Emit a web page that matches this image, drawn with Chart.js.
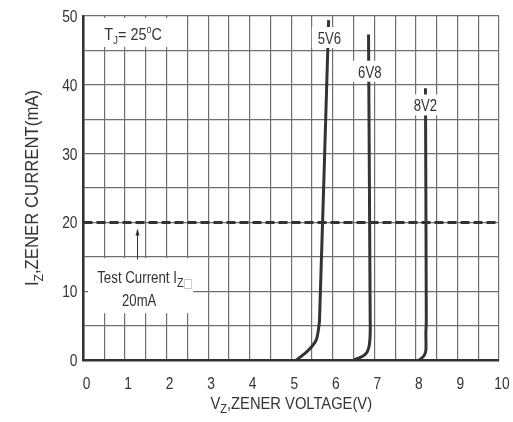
<!DOCTYPE html>
<html>
<head>
<meta charset="utf-8">
<script src="https://cdn.jsdelivr.net/npm/chart.js@4"></script>
<style>
  html, body { margin: 0; padding: 0; background: #fff; }
  #wrap { width: 513px; height: 422px; position: relative; }
</style>
</head>
<body>
<div id="wrap"><canvas id="zenerChart"></canvas></div>
<script>
// ---- data ----
const voltTicks = [0, 1, 2, 3, 4, 5, 6, 7, 8, 9, 10];
const currentTicks = [0, 10, 20, 30, 40, 50];

const v5V6 = [5.12, 5.33, 5.49, 5.60, 5.64, 5.68, 5.90];
const i5V6 = [0, 0.97, 1.93, 2.9, 3.87, 5.8, 49.4];
const v6V8 = [6.50, 6.73, 6.83, 6.88, 6.90, 6.90, 6.86];
const i6V8 = [0, 0.58, 1.2, 2.2, 3.9, 5.8, 47.3];
const v8V2 = [8.08, 8.19, 8.24, 8.24, 8.25, 8.23];
const i8V2 = [0, 0.58, 1.45, 3.9, 5.8, 39.5];

const testCurrent = 20;
const curveNames = ['5V6', '6V8', '8V2'];
const nameVolt = [5.92, 6.89, 8.23];
const nameCurrent = [46.8, 41.9, 37.0];

// no condensed face installed, so text is squeezed horizontally by hand
const FONT = "'Liberation Sans', Arial, sans-serif";
const INK = '#333';

function toPoints(vs, is) {
    return vs.map((v, k) => ({ x: v, y: is[k] }));
}

function richWidth(ctx, parts) {
    let w = 0;
    parts.forEach(p => {
        ctx.font = p.size + 'px ' + (p.family || FONT);
        w += ctx.measureText(p.text).width;
    });
    return w;
}

// draws text pieces (with sub/superscripts) squeezed by sx; align: 0 left, 0.5 centre, 1 right
function drawRich(ctx, parts, x, y, align, sx) {
    const w = richWidth(ctx, parts);
    ctx.save();
    ctx.translate(x, y);
    ctx.scale(sx, 1);
    let cx = -w * align;
    parts.forEach(p => {
        ctx.font = p.size + 'px ' + (p.family || FONT);
        ctx.fillStyle = p.color || INK;
        ctx.fillText(p.text, cx, p.dy || 0);
        cx += ctx.measureText(p.text).width;
    });
    ctx.restore();
    return w * sx;
}

const plain = (text, size) => [{ text: text, size: size }];

const notesPlugin = {
    id: 'notes',
    afterDatasetsDraw(chart) {
        const ctx = chart.ctx;
        const xs = chart.scales.x, ys = chart.scales.y;
        const area = chart.chartArea;
        ctx.save();
        ctx.textBaseline = 'alphabetic';

        // curve names on white patches
        curveNames.forEach((name, k) => {
            const px = xs.getPixelForValue(nameVolt[k]);
            const py = ys.getPixelForValue(nameCurrent[k]);
            const w = richWidth(ctx, plain(name, 16)) * 0.82;
            ctx.fillStyle = '#fff';
            ctx.fillRect(px - w / 2 - 6, py - 11, w + 12, 21);
            drawRich(ctx, plain(name, 16), px, py + 6, 0.5, 0.82);
        });

        // T_J = 25°C box
        ctx.fillStyle = '#fff';
        ctx.fillRect(area.left + 1.5, area.top + 2, xs.getPixelForValue(2.2) - area.left - 1.5,
                     ys.getPixelForValue(45.5) - area.top - 2);
        drawRich(ctx, [
            { text: 'T', size: 16 },
            { text: 'J', size: 11, dy: 4 },
            { text: '= 25', size: 16 },
            { text: 'o', size: 10, dy: -7 },
            { text: 'C', size: 16 }
        ], xs.getPixelForValue(0.5), ys.getPixelForValue(47.4) + 6, 0, 0.9);

        // test current note
        ctx.fillStyle = '#fff';
        const bx0 = area.left + 4.5, bx1 = xs.getPixelForValue(2.64);
        const by0 = ys.getPixelForValue(14.8), by1 = ys.getPixelForValue(6.8);
        ctx.fillRect(bx0, by0, bx1 - bx0, by1 - by0);
        drawRich(ctx, [
            { text: 'Test Current I', size: 16 },
            { text: 'Z', size: 13, dy: 4 },
            { text: '\u25A1', size: 12, dy: 4, color: '#b0b0b0', family: "'DejaVu Sans'" }
        ], xs.getPixelForValue(0.33), ys.getPixelForValue(12.0) + 6, 0, 0.83);
        drawRich(ctx, plain('20mA', 16), xs.getPixelForValue(1.34), ys.getPixelForValue(8.7) + 6, 0.5, 0.82);

        // arrow pointing at the test current line
        const ax = xs.getPixelForValue(1.30);
        const aTail = ys.getPixelForValue(14.6), aTip = ys.getPixelForValue(19.1);
        ctx.strokeStyle = INK;
        ctx.fillStyle = INK;
        ctx.lineWidth = 1;
        ctx.beginPath();
        ctx.moveTo(ax, aTail);
        ctx.lineTo(ax, aTip + 6);
        ctx.stroke();
        ctx.beginPath();
        ctx.moveTo(ax, aTip);
        ctx.lineTo(ax - 2, aTip + 7);
        ctx.lineTo(ax + 2, aTip + 7);
        ctx.closePath();
        ctx.fill();
        ctx.restore();
    },
    afterDraw(chart) {
        const ctx = chart.ctx;
        const xs = chart.scales.x, ys = chart.scales.y;
        const area = chart.chartArea;
        ctx.save();
        ctx.textBaseline = 'alphabetic';

        // tick labels
        voltTicks.forEach(v => {
            drawRich(ctx, plain(String(v), 16), xs.getPixelForValue(v) + 3, area.bottom + 29, 0.5, 0.86);
        });
        currentTicks.forEach(c => {
            drawRich(ctx, plain(String(c), 16), area.left - 6, ys.getPixelForValue(c) + 6, 1, 0.86);
        });

        // x axis title
        drawRich(ctx, [
            { text: 'V', size: 16 },
            { text: 'Z', size: 12, dy: 4 },
            { text: ',ZENER VOLTAGE(V)', size: 16 }
        ], (area.left + area.right) / 2, 409, 0.5, 0.92);

        // y axis title, rotated
        ctx.translate(38, (area.top + area.bottom) / 2);
        ctx.rotate(-Math.PI / 2);
        drawRich(ctx, [
            { text: 'I', size: 18 },
            { text: 'Z', size: 13, dy: 5 },
            { text: ',ZENER CURRENT(mA)', size: 18 }
        ], 0, 0, 0.5, 0.93);
        ctx.restore();
    }
};

const lineStyle = { borderColor: INK, borderWidth: 3, pointRadius: 0, showLine: true, tension: 0.25, fill: false };

new Chart(document.getElementById('zenerChart'), {
    type: 'scatter',
    data: {
        datasets: [
            { label: '5V6', data: toPoints(v5V6, i5V6), ...lineStyle },
            { label: '6V8', data: toPoints(v6V8, i6V8), ...lineStyle },
            { label: '8V2', data: toPoints(v8V2, i8V2), ...lineStyle },
            {
                label: 'Test Current',
                data: [{ x: voltTicks[0], y: testCurrent }, { x: voltTicks[voltTicks.length - 1], y: testCurrent }],
                borderColor: INK, borderWidth: 3, borderDash: [9, 4], pointRadius: 0, showLine: true
            }
        ]
    },
    options: {
        responsive: true,
        maintainAspectRatio: false,
        animation: false,
        layout: { padding: { top: 16, right: 14, left: 0, bottom: 0 } },
        plugins: { legend: { display: false }, tooltip: { enabled: false } },
        scales: {
            x: {
                type: 'linear',
                min: voltTicks[0],
                max: voltTicks[voltTicks.length - 1],
                afterFit: s => { s.height = 62; s.paddingLeft = 0; s.paddingRight = 0; },
                ticks: { stepSize: 0.5, autoSkip: false, maxRotation: 0, display: false },
                grid: { color: '#6f6f6f', lineWidth: 1.2, drawTicks: false },
                border: { color: INK, width: 2.5 }
            },
            y: {
                type: 'linear',
                min: currentTicks[0],
                max: currentTicks[currentTicks.length - 1],
                afterFit: s => { s.width = 83.5; s.paddingTop = 0; s.paddingBottom = 0; },
                ticks: { stepSize: 5, autoSkip: false, display: false },
                grid: { color: '#6f6f6f', lineWidth: 1.2, drawTicks: false },
                border: { color: INK, width: 2.5 }
            }
        }
    },
    plugins: [notesPlugin]
});
</script>
</body>
</html>
